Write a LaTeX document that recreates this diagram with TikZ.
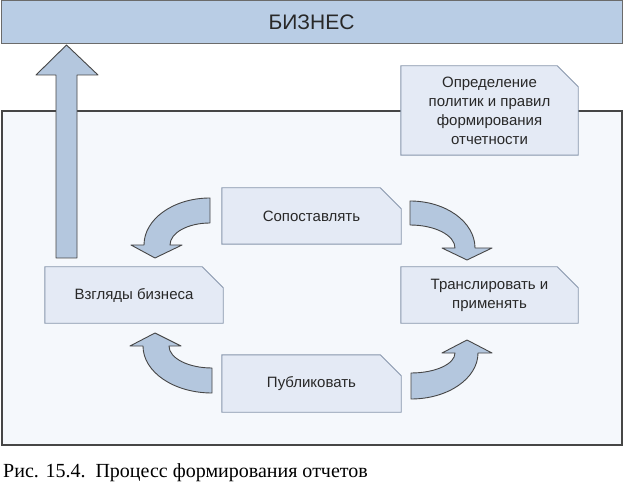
\documentclass[tikz,border=0pt]{standalone}
\usepackage{fontspec}
\setmainfont{Liberation Serif}
\setsansfont{Liberation Sans}
\usetikzlibrary{calc}
\definecolor{barfill}{RGB}{185,205,229}
\definecolor{arrfill}{RGB}{180,199,222}
\definecolor{boxfill}{RGB}{228,234,245}
\definecolor{framefill}{RGB}{245,248,252}
\definecolor{boxline}{RGB}{135,150,172}
\definecolor{darkline}{RGB}{70,70,70}
\definecolor{txt}{RGB}{40,40,40}
\pgfdeclarelayer{bg}
\pgfdeclarelayer{boxes}
\pgfsetlayers{bg,boxes,main}
% outline with one cut corner round a named node
\newcommand\cutbox[1]{%
  \begin{pgfonlayer}{boxes}
    \draw[draw=boxline,fill=boxfill,line width=0.9pt]
      (#1.south west) -- (#1.north west) -- ($(#1.north east)+(-21,0)$)
      -- ($(#1.north east)+(0,21)$) -- (#1.south east) -- cycle;
  \end{pgfonlayer}}

\begin{document}
\begin{tikzpicture}[x=1pt,y=-1pt,
  box/.style={rectangle,inner sep=0pt,align=center,
              font=\sffamily\fontsize{15}{19}\selectfont,text=txt},
  band/.style={draw=darkline,fill=arrfill,line width=0.9pt,line join=round},
  bar/.style={draw=darkline!80,fill=barfill,line width=1pt,inner sep=0pt,
              font=\sffamily\fontsize{21}{24}\selectfont,text=txt}
]
\useasboundingbox (0,0) rectangle (624,489);

% frame and top bar
\begin{pgfonlayer}{bg}
\fill[white] (0,0) rectangle (624,489);
\draw[draw=darkline,fill=framefill,line width=1.3pt] (2,111) rectangle (622,445);
\end{pgfonlayer}
\node[bar,minimum width=621pt,minimum height=43pt] (biz) at (311.5,22.5) {БИЗНЕС};

% up arrow to the business bar
\draw[band] (56,258) -- (56,75) -- (36,75) -- (66.5,45) -- (98,75)
  -- (77,75) -- (77,258) -- cycle;

% boxes
\node[box,minimum width=177pt,minimum height=89pt] (policy) at (489.5,110.5)
  {Определение\\политик и правил\\формирования\\отчетности};
\node[box,minimum width=179pt,minimum height=56pt] (match) at (311.5,216) {Сопоставлять};
\node[box,minimum width=178pt,minimum height=56pt] (views) at (134,295) {Взгляды бизнеса};
\node[box,minimum width=177pt,minimum height=56pt] (transl) at (489.5,295)
  {Транслировать и\\применять};
\node[box,minimum width=179pt,minimum height=57pt] (publish) at (311.5,383.5) {Публиковать};
\cutbox{policy}
\cutbox{match}
\cutbox{views}
\cutbox{transl}
\cutbox{publish}

% curved arrows of the cycle
\draw[band] (210,198) .. controls (173.5,198) and (144,219) .. (144,245)
  -- (131,245) -- (155,258) -- (182,245) -- (170,245)
  .. controls (170,232.8) and (187.9,223) .. (210,223) -- cycle;
\draw[band] (410,201) .. controls (445.9,201) and (475,222) .. (475,248)
  -- (492,248) -- (467,260) -- (442,248) -- (455,248)
  .. controls (455,235.3) and (434.9,225) .. (410,225) -- cycle;
\draw[band] (212,393) .. controls (173.9,393) and (143,372) .. (143,346)
  -- (130,346) -- (155,333) -- (181,346) -- (169,346)
  .. controls (169,358.2) and (188.3,368) .. (212,368) -- cycle;
\draw[band] (411,399) .. controls (448,399) and (478,378.4) .. (478,353)
  -- (492,353) -- (467,340) -- (442,353) -- (455,353)
  .. controls (455,364) and (435.3,373) .. (411,373) -- cycle;

% caption
\node[anchor=base west,inner sep=0pt,font=\fontsize{20}{22}\selectfont] (caption) at (3,477)
  {Рис. 15.4.\ \ Процесс формирования отчетов};
\end{tikzpicture}
\end{document}
